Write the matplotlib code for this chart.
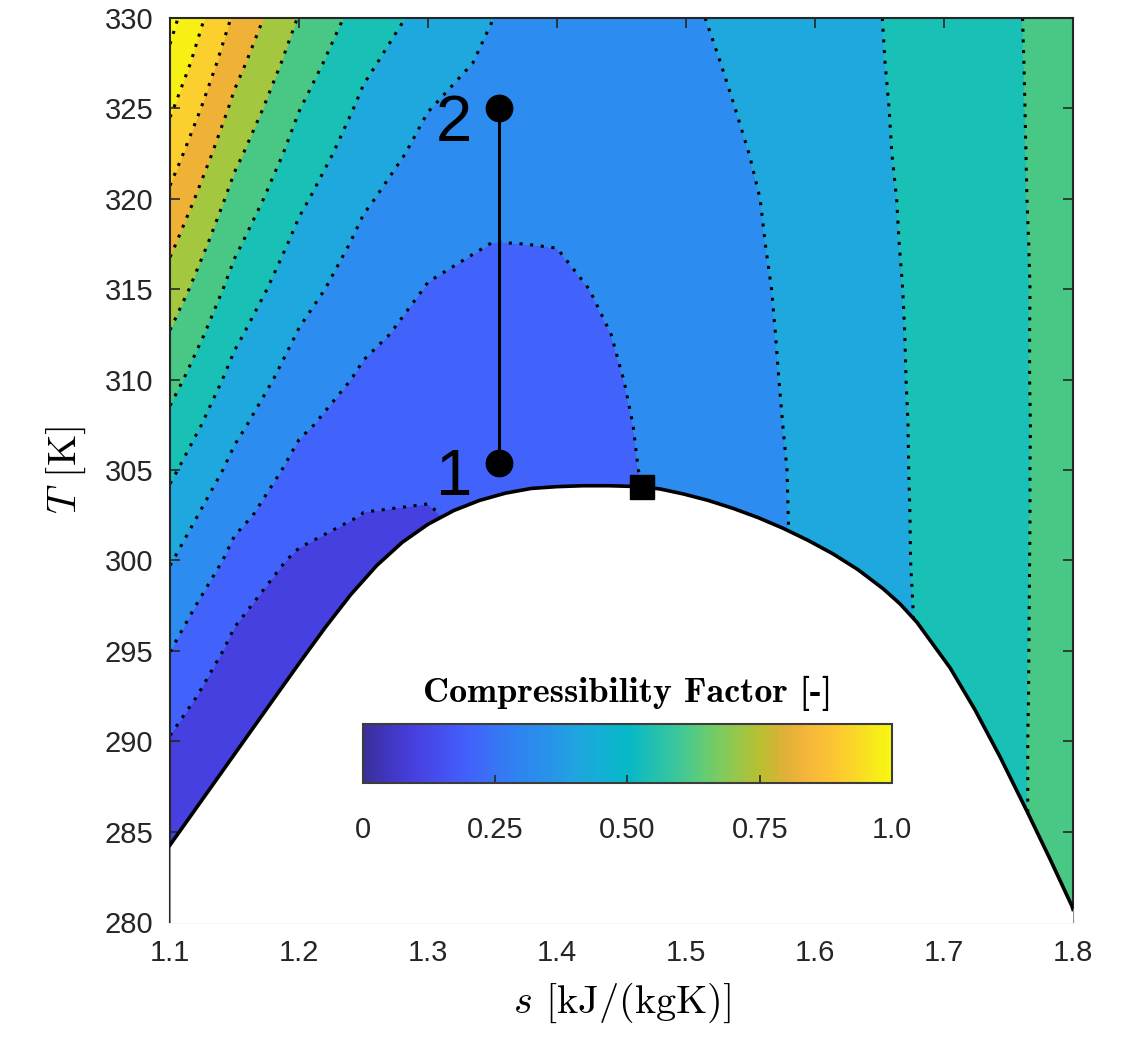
import numpy as np
import matplotlib
matplotlib.use('Agg')
import matplotlib.pyplot as plt
from matplotlib.colors import LinearSegmentedColormap, Normalize
from matplotlib.cm import ScalarMappable

plt.rcParams['font.family'] = ['Liberation Sans', 'DejaVu Sans']
plt.rcParams['mathtext.fontset'] = 'cm'

# entropy / temperature grid of the compressibility factor
s_grid = [1.10, 1.15, 1.20, 1.25, 1.30, 1.35, 1.40, 1.45, 1.50, 1.55, 1.60, 1.65, 1.70, 1.75, 1.80]
T_grid = [280.0, 282.5, 285.0, 287.5, 290.0, 292.5, 295.0, 297.5, 300.0, 302.5, 305.0,
          307.5, 310.0, 312.5, 315.0, 317.5, 320.0, 322.5, 325.0, 327.5, 330.0]
Z_grid = [
    [0.120, 0.105, 0.105, 0.105, 0.110, 0.130, 0.170, 0.260, 0.288, 0.360, 0.420, 0.470, 0.526, 0.583, 0.640],
    [0.130, 0.110, 0.110, 0.110, 0.115, 0.140, 0.180, 0.264, 0.290, 0.361, 0.420, 0.470, 0.526, 0.583, 0.640],
    [0.145, 0.115, 0.115, 0.120, 0.125, 0.150, 0.190, 0.267, 0.292, 0.362, 0.420, 0.470, 0.526, 0.583, 0.640],
    [0.165, 0.120, 0.120, 0.130, 0.135, 0.160, 0.200, 0.270, 0.295, 0.363, 0.420, 0.470, 0.526, 0.583, 0.640],
    [0.193, 0.125, 0.125, 0.140, 0.145, 0.170, 0.210, 0.274, 0.298, 0.364, 0.420, 0.470, 0.526, 0.583, 0.640],
    [0.247, 0.135, 0.130, 0.150, 0.155, 0.180, 0.220, 0.277, 0.300, 0.365, 0.420, 0.470, 0.526, 0.582, 0.640],
    [0.301, 0.178, 0.135, 0.160, 0.165, 0.190, 0.225, 0.280, 0.305, 0.366, 0.420, 0.470, 0.526, 0.582, 0.639],
    [0.353, 0.220, 0.143, 0.172, 0.175, 0.200, 0.230, 0.284, 0.308, 0.367, 0.420, 0.471, 0.527, 0.582, 0.638],
    [0.406, 0.276, 0.181, 0.185, 0.185, 0.210, 0.235, 0.287, 0.310, 0.368, 0.421, 0.474, 0.528, 0.582, 0.637],
    [0.461, 0.320, 0.250, 0.198, 0.195, 0.220, 0.240, 0.290, 0.312, 0.369, 0.422, 0.475, 0.528, 0.582, 0.636],
    [0.517, 0.374, 0.273, 0.228, 0.215, 0.230, 0.250, 0.294, 0.317, 0.370, 0.423, 0.476, 0.529, 0.582, 0.636],
    [0.575, 0.421, 0.313, 0.257, 0.235, 0.244, 0.258, 0.295, 0.323, 0.374, 0.426, 0.477, 0.529, 0.582, 0.635],
    [0.634, 0.469, 0.354, 0.287, 0.255, 0.257, 0.265, 0.299, 0.328, 0.378, 0.428, 0.479, 0.530, 0.583, 0.635],
    [0.694, 0.517, 0.394, 0.317, 0.275, 0.270, 0.274, 0.305, 0.331, 0.381, 0.430, 0.480, 0.531, 0.583, 0.635],
    [0.756, 0.566, 0.435, 0.348, 0.296, 0.285, 0.290, 0.310, 0.335, 0.384, 0.433, 0.482, 0.532, 0.583, 0.634],
    [0.818, 0.616, 0.475, 0.379, 0.321, 0.299, 0.301, 0.318, 0.341, 0.389, 0.437, 0.485, 0.534, 0.584, 0.635],
    [0.881, 0.668, 0.517, 0.411, 0.348, 0.321, 0.315, 0.325, 0.346, 0.393, 0.440, 0.487, 0.536, 0.586, 0.635],
    [0.946, 0.722, 0.560, 0.446, 0.375, 0.342, 0.327, 0.333, 0.357, 0.401, 0.446, 0.491, 0.538, 0.587, 0.635],
    [1.013, 0.777, 0.603, 0.481, 0.402, 0.363, 0.340, 0.338, 0.368, 0.410, 0.452, 0.493, 0.540, 0.588, 0.635],
    [1.078, 0.832, 0.649, 0.517, 0.436, 0.384, 0.350, 0.342, 0.379, 0.418, 0.457, 0.496, 0.542, 0.589, 0.635],
    [1.130, 0.886, 0.695, 0.557, 0.469, 0.401, 0.360, 0.345, 0.389, 0.426, 0.462, 0.498, 0.544, 0.590, 0.636],
]

fill_levels = [0.1, 0.2, 0.3, 0.4, 0.5, 0.6, 0.7, 0.8, 0.9, 1.0, 1.1, 1.5]
line_levels = [0.2, 0.3, 0.4, 0.5, 0.6, 0.7, 0.8, 0.9, 1.0, 1.1]
band_colors = ['#4540df', '#4163fc', '#2c8cf0', '#1ea8dd', '#19c0b5', '#48c884',
               '#a4c740', '#efb236', '#fbd02e', '#f8ef14', '#fafa12']

# saturation dome
dome_s = [1.1000, 1.1400, 1.1800, 1.2000, 1.2200, 1.2400, 1.2600, 1.2800, 1.3000, 1.3200,
          1.3400, 1.3600, 1.3800, 1.4000, 1.4200, 1.4400, 1.4659, 1.4800, 1.4977, 1.5171,
          1.5364, 1.5558, 1.5752, 1.5946, 1.6140, 1.6333, 1.6527, 1.6659, 1.6791, 1.7047,
          1.7240, 1.7434, 1.7643, 1.7822, 1.7992, 1.8000]
dome_T = [284.26, 288.28, 292.30, 294.30, 296.26, 298.10, 299.70, 301.00, 302.00, 302.76,
          303.32, 303.72, 303.98, 304.08, 304.13, 304.13, 304.08, 303.95, 303.68, 303.32,
          302.88, 302.37, 301.78, 301.11, 300.36, 299.49, 298.44, 297.60, 296.57, 294.06,
          291.74, 289.14, 286.13, 283.48, 280.88, 280.70]

crit_s, crit_T = 1.466, 304.08
state_s = [1.355, 1.355]
state_T = [305.4, 325.0]
state_labels = ['1', '2']

cbar_ticks = [0, 0.25, 0.5, 0.75, 1.0]
cbar_ticklabels = ['0', '0.25', '0.50', '0.75', '1.0']
cbar_colors = ['#3b2f98', '#4136c4', '#4741e0', '#4650f0', '#4262fb', '#3775f5', '#2e86ef',
               '#2892ea', '#20a4e0', '#12b0d4', '#05b8c8', '#22c0b0', '#40c898', '#68cc70',
               '#90c850', '#b8c030', '#e0b038', '#f8b83a', '#fcc830', '#f8e020', '#f8f810']

fig = plt.figure(figsize=(11.29, 10.41), dpi=100)
ax = fig.add_axes([0.1506, 0.1143, 0.7998, 0.8684])

S, T = np.meshgrid(s_grid, T_grid)
Z = np.array(Z_grid)
ax.contourf(S, T, Z, levels=fill_levels, colors=band_colors, zorder=1)
ax.contour(S, T, Z, levels=line_levels, colors='black', linewidths=2.2,
           linestyles=[(0, (1, 2.5))], zorder=2)

# two-phase region is blanked
ax.fill_between(dome_s, 279, dome_T, color='white', lw=0, zorder=3)
ax.plot(dome_s, dome_T, color='black', lw=2.6, zorder=4, solid_joinstyle='round')

ax.plot(state_s, state_T, color='black', lw=2.2, zorder=5)
ax.plot(state_s, state_T, 'o', color='black', ms=19, zorder=6)
ax.plot(crit_s, crit_T, 's', color='black', ms=17, zorder=6)
for lab, ss, tt in zip(state_labels, state_s, state_T):
    ax.text(ss - 0.021, tt - 1.8, lab, ha='right', va='baseline', fontsize=47, zorder=6)

ax.set_xlim(1.1, 1.8)
ax.set_ylim(280, 330)
ax.set_xticks([1.1, 1.2, 1.3, 1.4, 1.5, 1.6, 1.7, 1.8])
ax.set_yticks([280, 285, 290, 295, 300, 305, 310, 315, 320, 325, 330])
ax.tick_params(direction='in', length=7, width=1.2, top=True, right=True,
               labelsize=21, colors='#262626', pad=12)
for sp in ax.spines.values():
    sp.set_color('#262626')
    sp.set_linewidth(1.5)
ax.set_xlabel(r'$s$ [kJ/(kgK)]', fontfamily='cmr10', fontsize=29, labelpad=10)
ax.set_ylabel(r'$T$ [K]', fontfamily='cmr10', fontsize=29, labelpad=12)

# colorbar inside the dome
cax = ax.inset_axes([0.2137, 0.1538, 0.5858, 0.0653])
cmap = LinearSegmentedColormap.from_list('zmap', cbar_colors)
sm = ScalarMappable(norm=Normalize(0, 1), cmap=cmap)
cb = fig.colorbar(sm, cax=cax, orientation='horizontal', ticks=cbar_ticks)
cb.ax.set_xticklabels(cbar_ticklabels)
cb.ax.tick_params(direction='in', length=6, width=1.2, labelsize=21, pad=24, colors='#262626')
cb.outline.set_edgecolor('#3c3c3c')
cb.outline.set_linewidth(1.5)
cax.text(0.5, 1.38, 'Compressibility Factor [-]', transform=cax.transAxes, ha='center',
         va='baseline', fontfamily='cmb10', fontsize=26)

fig.savefig('out.png', dpi=100)
